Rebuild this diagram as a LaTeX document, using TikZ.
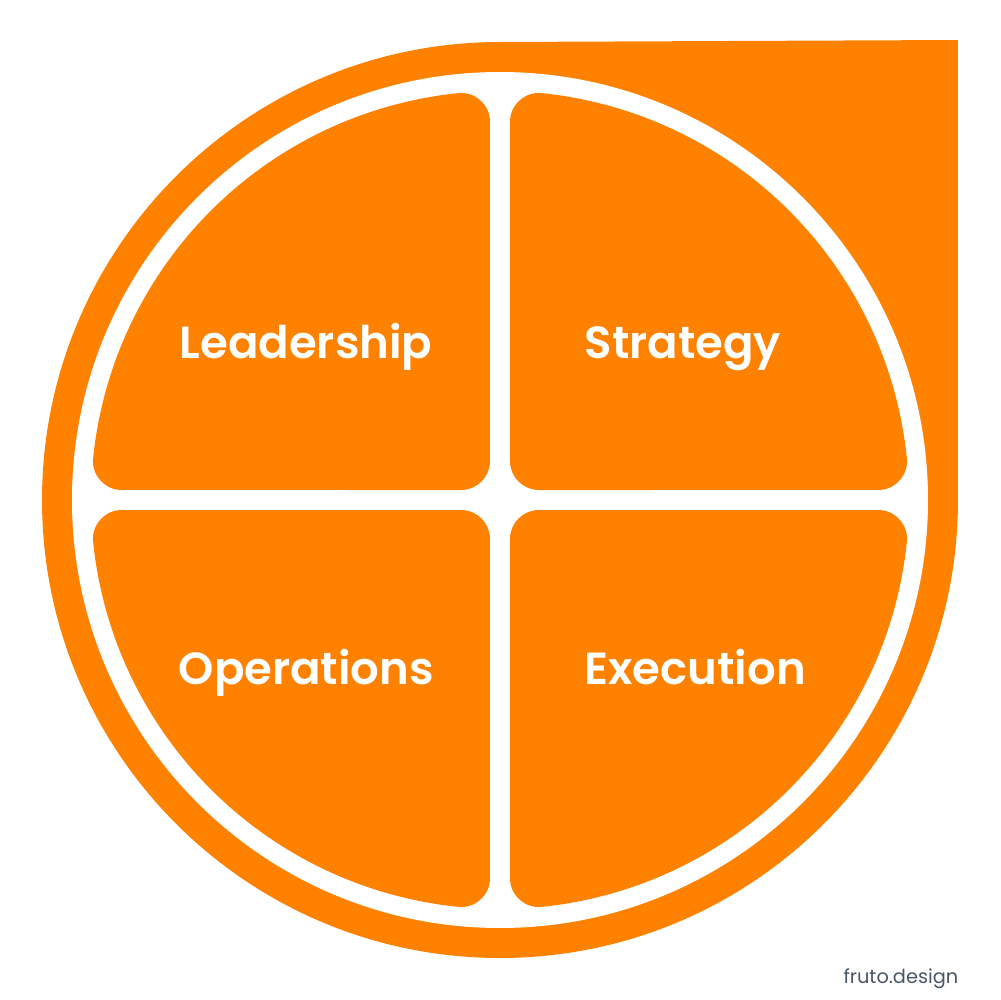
\documentclass[tikz,border=0pt]{standalone}
\usepackage{fontspec}
\setmainfont{Poppins}[BoldFont={Poppins SemiBold}]
\newfontfamily\credfont{Poppins}
\definecolor{fruto}{RGB}{255,129,0}
\definecolor{credit}{RGB}{74,85,104}
\tikzset{
  quad/.style={fill=fruto, draw=fruto, line width=5.8mm, line join=round},
  label/.style={text=white, font=\fontsize{12.8}{14}\selectfont\bfseries, inner sep=0pt, anchor=base west},
}
\begin{document}
\begin{tikzpicture}[x=0.1mm, y=0.1mm]
\useasboundingbox (-500,-500) rectangle (500,500);
% outer drop shape
\fill[fruto] (0,458) -- (458,460) -- (458,0) arc[start angle=0, end angle=-270, radius=45.8mm] -- cycle;
\fill[white] (0,0) circle[radius=42.8mm];
% quadrants (eroded shape, then dilated by stroke)
\foreach \sx/\sy in {1/1,-1/1,1/-1,-1/-1}{
  \begin{scope}[xscale=\sx, yscale=\sy]
    \path[quad] (39,39) -- (39,378) arc[start angle=84.11, end angle=5.89, radius=38mm] -- cycle;
  \end{scope}
}
\node[label] (lead) at (-321,142) {Leadership};
\node[label] (strat) at (84,142) {Strategy};
\node[label] (ops) at (-322,-184) {Operations};
\node[label] (exec) at (84,-184) {Execution};
\node[text=credit, font=\credfont\fontsize{5.5}{7}\selectfont, inner sep=0pt, anchor=base east] (credit) at (459,-483) {fruto.design};
\end{tikzpicture}
\end{document}
